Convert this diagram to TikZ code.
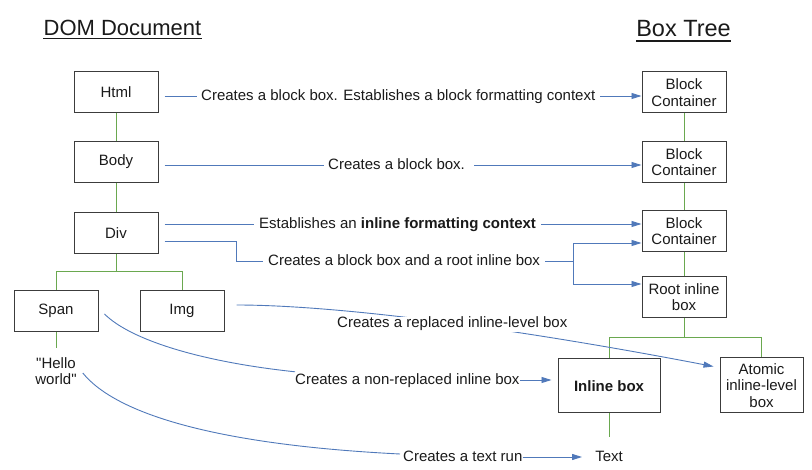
\documentclass[tikz,border=0pt]{standalone}
\usepackage{fontspec}
\setmainfont{Liberation Sans}[Ligatures=TeXOff]
\usetikzlibrary{arrows.meta}
\definecolor{boxc}{HTML}{3C3C3C}
\definecolor{treec}{HTML}{6AA84F}
\definecolor{connc}{HTML}{5079BA}
\definecolor{txtc}{HTML}{1A1A1A}
\begin{document}
\begin{tikzpicture}[x=1pt,y=-1pt,
  box/.style={draw=boxc, line width=1pt, minimum width=84pt, minimum height=41pt, align=center,
    font=\fontsize{15}{16.5}\selectfont, inner sep=2pt, text=txtc},
  lbl/.style={inner sep=0pt, text height=10pt, text depth=0pt, anchor=west,
    font=\fontsize{15}{16.5}\selectfont, text=txtc},
  title/.style={inner sep=0pt, anchor=base, font=\fontsize{22}{26}\selectfont, text=txtc},
  tree/.style={draw=treec, line width=1pt},
  conn/.style={draw=connc, line width=0.9pt},
  arr/.style={conn, -{Triangle[length=10pt,width=6pt]}}
]
\useasboundingbox (0,0) rectangle (812,470);

% titles
\node[title] (dom) at (122.5,36) {DOM Document};
\draw[line width=1.2pt, txtc] ([yshift=-2.5pt]dom.base west) -- ([yshift=-2.5pt]dom.base east);
\node[title, font=\fontsize{23.5}{27}\selectfont] (bt) at (683.5,37) {Box Tree};
\draw[line width=1.2pt, txtc] ([yshift=-4pt]bt.base west) -- ([yshift=-4pt]bt.base east);

% DOM boxes
\node[box] (html) at (116,92.5) {Html};
\node[box] (body) at (116,162) {Body};
\node[box] (div)  at (116,233) {Div};
\node[box] (span) at (56,311) {Span};
\node[box] (img)  at (182,311) {Img};
\node[inner sep=0pt, align=center, font=\fontsize{15}{16.5}\selectfont, text=txtc] (hello) at (56,371) {"Hello\\world"};

% Box tree boxes
\node[box] (bc1) at (684,92.5) {Block\\Container};
\node[box] (bc2) at (684,162) {Block\\Container};
\node[box] (bc3) at (684,231) {Block\\Container};
\node[box] (root) at (684,297) {Root inline\\box};
\node[box, minimum width=102pt, minimum height=54pt, font=\fontsize{15}{16.5}\selectfont\bfseries] (inl) at (609,386) {Inline box};
\node[box, minimum width=83pt, minimum height=55pt] (atom) at (761.5,385.5) {Atomic\\inline-level\\box};
\node[lbl, anchor=center] (txt) at (609,457) {Text};

% tree lines
\draw[tree] (html) -- (body);
\draw[tree] (body) -- (div);
\draw[tree] (div.south) -- ++(0,18) -| (span.north);
\draw[tree] (div.south) -- ++(0,18) -| (img.north);
\draw[tree, shorten >=9pt] (span.south) -- (hello.north);
\draw[tree] (bc1) -- (bc2);
\draw[tree] (bc2) -- (bc3);
\draw[tree] (bc3) -- (root);
\draw[tree] (root.south) -- ++(0,20) -| (inl.north);
\draw[tree] (root.south) -- ++(0,20) -| (atom.north);
\draw[tree, shorten >=15pt] (inl.south) -- (txt.north);

% labels
\node[lbl] (l1) at (201,96) {Creates a block box. Establishes a block formatting context};
\node[lbl] (l2) at (328,165) {Creates a block box.};
\node[lbl] (l3) at (259,224) {Establishes an \textbf{inline formatting context}};
\node[lbl] (l4) at (268,261) {Creates a block box and a root inline box};
\node[lbl] (l6) at (295,380) {Creates a non-replaced inline box};
\node[lbl] (l7) at (403,457) {Creates a text run};

% connectors
\draw[conn, shorten <=6pt, shorten >=4pt] (l1.west -| html.east) -- (l1.west);
\draw[arr, shorten <=5pt] (l1.east) -- (l1.east -| bc1.west);
\draw[conn, shorten <=6pt, shorten >=4pt] (l2.west -| body.east) -- (l2.west);
\draw[arr, shorten <=9pt] (l2.east) -- (l2.east -| bc2.west);
\draw[conn, shorten <=6pt, shorten >=5pt] (l3.west -| div.east) -- (l3.west);
\draw[arr, shorten <=5pt] (l3.east) -- (l3.east -| bc3.west);

\draw[conn, shorten <=6pt, shorten >=5pt] ([yshift=-8pt]div.east) -- ++(78,0) |- (l4.west);
\coordinate (fork) at ([xshift=33pt]l4.east);
\draw[conn, shorten <=5pt] (l4.east) -- (fork);
\draw[arr] (fork) |- ([yshift=-12pt]bc3.west);
\draw[arr] (fork) |- ([yshift=13pt]root.west);

\draw[arr] ([xshift=12pt,yshift=6pt]img.east) .. controls +(94,0) and +(-213,-41) .. ([xshift=-6pt,yshift=19pt]atom.west);
\node[lbl, anchor=base west, text height=11pt, text depth=4pt, fill=white] (l5) at (337,328) {Creates a replaced inline-level box};

\draw[conn] ([xshift=6pt,yshift=-3pt]span.east) .. controls +(26,26) and +(-94,-10) .. ([yshift=3pt]l6.north west);
\draw[arr, shorten >=6pt] (l6.east) -- (l6.east -| inl.west);

\draw[conn] ([xshift=6pt,yshift=-2pt]hello.east) .. controls +(34,42) and +(-180,-9) .. ([xshift=-3pt,yshift=3pt]l7.west);
\draw[arr, shorten >=13pt] (l7.east) -- (txt.west);
\end{tikzpicture}
\end{document}
